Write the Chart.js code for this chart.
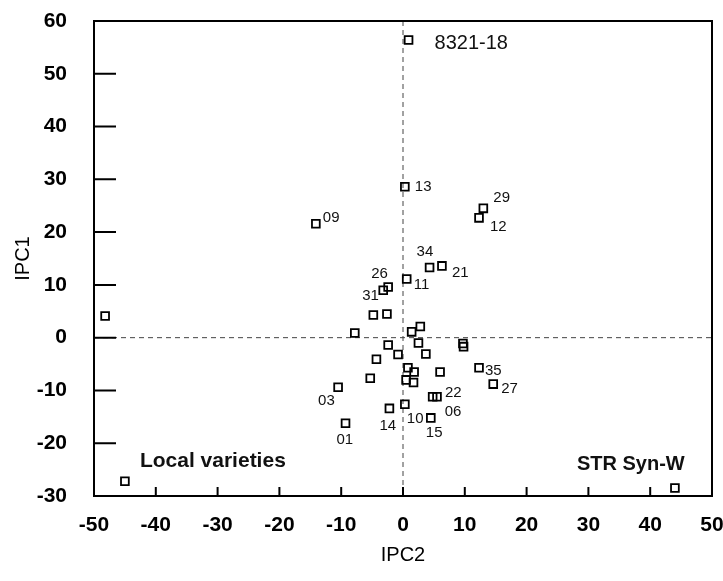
<!DOCTYPE html>
<html>
<head>
<meta charset="utf-8">
<script src="https://cdn.jsdelivr.net/npm/chart.js@4.4.0/dist/chart.umd.min.js"></script>
<style>
  html, body { margin: 0; padding: 0; background: #fff; }
</style>
</head>
<body>
<canvas id="myChart" width="723" height="581"></canvas>
<script>
// genotype names ('' = unlabelled point)
var names = ['8321-18', '13', '29', '12', '09', '34', '21', '11', '26', '31',
  '', '', '', '', '', '', '', '', '', '',
  '', '', '', '35', '', '', '', '', '', '',
  '27', '03', '06', '22', '10', '14', '15', '01', 'Local varieties', 'STR Syn-W'];

// IPC2 (x) scores
var ipc2 = [0.9, 0.3, 13.0, 12.3, -14.1, 4.3, 6.3, 0.6, -2.4, -3.2,
  -4.8, -2.6, -48.2, -7.8, 2.8, 1.4, 9.7, 9.8, -2.4, 2.5,
  -4.3, -0.8, 3.7, 12.3, 0.8, 1.8, 6.0, -5.3, 0.5, 1.7,
  14.6, -10.5, 4.8, 5.5, 0.3, -2.2, 4.5, -9.3, -45.0, 44.0];

// IPC1 (y) scores
var ipc1 = [56.4, 28.6, 24.5, 22.7, 21.6, 13.3, 13.6, 11.1, 9.6, 9.0,
  4.3, 4.5, 4.1, 0.9, 2.1, 1.1, -1.1, -1.7, -1.4, -1.0,
  -4.1, -3.2, -3.1, -5.7, -5.7, -6.5, -6.5, -7.7, -8.0, -8.5,
  -8.8, -9.4, -11.2, -11.2, -12.6, -13.4, -15.2, -16.2, -27.2, -28.5];

var xMin = -50, xMax = 50, xStep = 10;
var yMin = -30, yMax = 60, yStep = 10;

// where each label sits relative to its square [dx, dy, font px, weight]
var labelPlace = {
  '8321-18': [26, 3, 20, 'normal'],
  '13': [10, 0, 15, 'normal'],
  '29': [10, -11, 15, 'normal'],
  '12': [11, 9, 15, 'normal'],
  '09': [7, -6, 15, 'normal'],
  '34': [-13, -16, 15, 'normal'],
  '21': [10, 7, 15, 'normal'],
  '11': [7, 6, 15, 'normal'],
  '26': [-17, -13, 15, 'normal'],
  '31': [-21, 6, 15, 'normal'],
  '35': [6, 3, 15, 'normal'],
  '27': [8, 5, 15, 'normal'],
  '03': [-20, 14, 15, 'normal'],
  '06': [12, 15, 15, 'normal'],
  '22': [8, -4, 15, 'normal'],
  '10': [2, 15, 15, 'normal'],
  '14': [-10, 17, 15, 'normal'],
  '15': [-5, 15, 15, 'normal'],
  '01': [-9, 17, 15, 'normal'],
  'Local varieties': [15, -20, 21, 'bold'],
  'STR Syn-W': [-98, -24, 20, 'bold']
};

var pts = [];
for (var i = 0; i < ipc2.length; i++) {
  pts.push({x: ipc2[i], y: ipc1[i]});
}

var FONT = "'Liberation Sans', Arial, Helvetica, sans-serif";

// box, inward ticks, dashed zero lines
var framePlugin = {
  id: 'frame',
  beforeDatasetsDraw: function(chart) {
    var ctx = chart.ctx, a = chart.chartArea;
    var xs = chart.scales.x, ys = chart.scales.y;
    ctx.save();
    ctx.strokeStyle = '#444';
    ctx.lineWidth = 1;
    ctx.setLineDash([5, 4]);
    var x0 = xs.getPixelForValue(0), y0 = ys.getPixelForValue(0);
    ctx.beginPath();
    ctx.moveTo(x0, a.top); ctx.lineTo(x0, a.bottom);
    ctx.moveTo(a.left, y0); ctx.lineTo(a.right, y0);
    ctx.stroke();
    ctx.setLineDash([]);
    ctx.strokeStyle = '#000';
    ctx.lineWidth = 2;
    ctx.strokeRect(a.left, a.top, a.right - a.left, a.bottom - a.top);
    ctx.beginPath();
    xs.ticks.forEach(function(t) {
      var px = xs.getPixelForValue(t.value);
      ctx.moveTo(px, a.bottom); ctx.lineTo(px, a.bottom - 9);
    });
    ys.ticks.forEach(function(t) {
      var py = ys.getPixelForValue(t.value);
      ctx.moveTo(a.left, py); ctx.lineTo(a.left + 22, py);
    });
    ctx.stroke();
    ctx.restore();
  },
  afterDatasetsDraw: function(chart) {
    var ctx = chart.ctx;
    var meta = chart.getDatasetMeta(0);
    ctx.save();
    ctx.fillStyle = '#111';
    ctx.textAlign = 'left';
    ctx.textBaseline = 'middle';
    meta.data.forEach(function(el, i) {
      var n = names[i];
      if (!n) return;
      var p = labelPlace[n] || [8, 0, 15, 'normal'];
      ctx.font = p[3] + ' ' + p[2] + 'px ' + FONT;
      ctx.fillText(n, el.x + p[0], el.y + p[1]);
    });
    ctx.restore();
  }
};

var ctx = document.getElementById('myChart').getContext('2d');
var myChart = new Chart(ctx, {
  type: 'scatter',
  data: {
    datasets: [{
      data: pts,
      pointStyle: 'rect',
      pointRadius: 5.5,
      pointHoverRadius: 5.5,
      borderColor: '#000',
      backgroundColor: 'rgba(0,0,0,0)',
      borderWidth: 1.8
    }]
  },
  options: {
    responsive: false,
    animation: false,
    layout: { padding: { top: 21, right: 11, left: 0, bottom: 0 } },
    plugins: {
      legend: { display: false },
      tooltip: { enabled: false }
    },
    scales: {
      x: {
        type: 'linear',
        min: xMin, max: xMax,
        grid: { display: false, drawTicks: false },
        border: { display: false },
        ticks: { stepSize: xStep, color: '#000', padding: 17,
          font: { family: FONT, size: 21, weight: 'bold' } },
        title: { display: true, text: 'IPC2', color: '#000',
          font: { family: FONT, size: 20 }, padding: { top: 0, bottom: 14 } },
        afterFit: function(s) {
          s.height = 85;
          s.paddingLeft = 0; s.paddingRight = 0;
        }
      },
      y: {
        type: 'linear',
        min: yMin, max: yMax,
        grid: { display: false, drawTicks: false },
        border: { display: false },
        ticks: { stepSize: yStep, color: '#000', padding: 27,
          font: { family: FONT, size: 21, weight: 'bold' } },
        title: { display: true, text: 'IPC1', color: '#000',
          font: { family: FONT, size: 20 }, padding: { top: 11, bottom: 0 } },
        afterFit: function(s) {
          s.width = 94;
          s.paddingTop = 0; s.paddingBottom = 0;
        }
      }
    }
  },
  plugins: [framePlugin]
});
</script>
</body>
</html>
